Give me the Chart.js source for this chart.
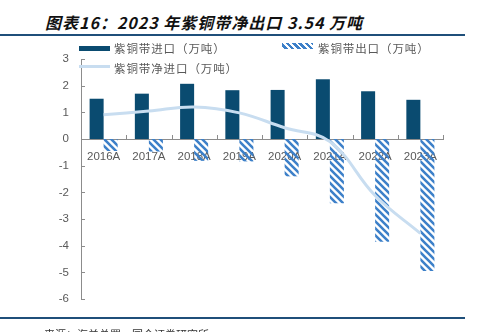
<!DOCTYPE html>
<html>
<head>
<meta charset="utf-8">
<script src="https://cdn.jsdelivr.net/npm/chart.js@4"></script>
<style>
    body { margin: 0; background: #fff; font-family: "Liberation Sans", "Noto Sans CJK SC", sans-serif; }
    #wrap { position: relative; width: 483px; height: 332px; overflow: hidden; }
    #title { position: absolute; left: 45px; top: 10px; font: italic bold 16px "Noto Sans CJK SC"; color: #111; letter-spacing: 1px; white-space: nowrap; }
    .rule { position: absolute; left: 0; width: 465px; height: 2px; background: #1f4f7a; }
    #source { position: absolute; left: 44px; top: 326px; font: 11px "Noto Sans CJK SC"; color: #333; white-space: nowrap; }
    .leg { position: absolute; font: 11.5px "Noto Sans CJK SC"; color: #595959; white-space: nowrap; line-height: 14px; letter-spacing: 0.9px; }
    .sw { position: absolute; width: 31px; }
    canvas { position: absolute; left: 0; top: 0; }
</style>
</head>
<body>
<div id="wrap">
    <div id="title">图表16：2023 年紫铜带净出口 3.54 万吨</div>
    <div class="rule" style="top:34px"></div>
    <canvas id="myChart" width="483" height="332"></canvas>
    <div class="sw" style="left:79px;top:46px;height:5px;background:#0a4b70"></div>
    <div class="leg" style="left:114px;top:41px">紫铜带进口（万吨）</div>
    <div class="sw" style="left:282px;top:43px;height:6px;background:repeating-linear-gradient(45deg,#fff 0,#fff 2px,#3d80c9 2px,#3d80c9 4.5px)"></div>
    <div class="leg" style="left:318px;top:41px">紫铜带出口（万吨）</div>
    <div class="sw" style="left:79px;top:65px;height:3px;background:#c8ddf0"></div>
    <div class="leg" style="left:114px;top:61px">紫铜带净进口（万吨）</div>
    <div class="rule" style="top:317px"></div>
    <div id="source">来源：海关总署，国金证券研究所</div>
</div>
<script>
var years = ['2016A', '2017A', '2018A', '2019A', '2020A', '2021A', '2022A', '2023A'];
var importVals = [1.51, 1.70, 2.07, 1.83, 1.84, 2.24, 1.79, 1.47];
var exportVals = [-0.45, -0.47, -0.82, -0.84, -1.40, -2.41, -3.85, -4.95];
var netVals = [0.91, 1.05, 1.20, 0.98, 0.42, -0.10, -2.12, -3.54];
var yTicks = [3, 2, 1, 0, -1, -2, -3, -4, -5, -6];

var axisColor = '#8c8c8c';
var labelColor = '#595959';

// diagonal hatch for the export bars
function makeHatch() {
    var c = document.createElement('canvas');
    c.width = 7; c.height = 7;
    var g = c.getContext('2d');
    g.strokeStyle = '#3d80c9';
    g.lineWidth = 2.6;
    g.beginPath();
    g.moveTo(-2, -2); g.lineTo(9, 9);
    g.moveTo(-9, -2); g.lineTo(2, 9);
    g.moveTo(5, -2); g.lineTo(16, 9);
    g.stroke();
    return g.createPattern(c, 'repeat');
}

// inward tick marks, like the original
var tickMarks = {
    id: 'tickMarks',
    afterDraw: function(chart) {
        var ctx = chart.ctx;
        var xs = chart.scales.x, ys = chart.scales.y;
        var zero = ys.getPixelForValue(0);
        ctx.save();
        ctx.strokeStyle = axisColor;
        ctx.lineWidth = 1;
        ctx.beginPath();
        yTicks.forEach(function(v) {
            var py = Math.round(ys.getPixelForValue(v)) + 0.5;
            ctx.moveTo(ys.right, py);
            ctx.lineTo(ys.right + 4, py);
        });
        var step = (xs.right - xs.left) / years.length;
        for (var i = 1; i <= years.length; i++) {
            var px = Math.round(xs.left + i * step) + 0.5;
            ctx.moveTo(px, zero);
            ctx.lineTo(px, zero - 4);
        }
        ctx.stroke();
        ctx.restore();
    }
};

var ctx = document.getElementById('myChart').getContext('2d');
var chart = new Chart(ctx, {
    type: 'bar',
    data: {
        labels: years,
        datasets: [{
            label: '紫铜带进口（万吨）',
            data: importVals,
            backgroundColor: '#0a4b70',
            categoryPercentage: 0.62,
            barPercentage: 1.0,
            order: 2
        }, {
            label: '紫铜带出口（万吨）',
            data: exportVals,
            backgroundColor: makeHatch(),
            categoryPercentage: 0.62,
            barPercentage: 1.0,
            order: 2
        }, {
            type: 'line',
            label: '紫铜带净进口（万吨）',
            data: netVals,
            borderColor: '#c8ddf0',
            borderWidth: 3,
            pointRadius: 0,
            tension: 0.4,
            fill: false,
            order: 1
        }]
    },
    options: {
        responsive: false,
        animation: false,
        layout: { padding: { left: 0, right: 40, top: 59, bottom: 33 } },
        plugins: {
            legend: { display: false },
            tooltip: { enabled: false }
        },
        scales: {
            x: {
                position: { y: 0 },
                grid: { display: false },
                border: { display: true, color: axisColor, width: 1 },
                ticks: {
                    color: labelColor,
                    font: { family: 'Liberation Sans', size: 11.5 },
                    padding: 3,
                    maxRotation: 0
                }
            },
            y: {
                min: -6,
                max: 3,
                afterFit: function(scale) { scale.width = 81; },
                afterBuildTicks: function(scale) {
                    scale.ticks = yTicks.map(function(v) { return { value: v }; });
                },
                grid: { display: false, drawTicks: false },
                border: { display: true, color: axisColor, width: 1 },
                ticks: {
                    color: labelColor,
                    font: { family: 'Liberation Sans', size: 11.5 },
                    padding: 12
                }
            }
        }
    },
    plugins: [tickMarks]
});
</script>
</body>
</html>
